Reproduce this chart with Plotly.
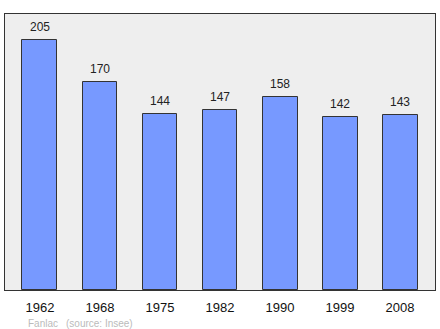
import plotly.graph_objects as go

years = ["1962", "1968", "1975", "1982", "1990", "1999", "2008"]
population = [205, 170, 144, 147, 158, 142, 143]
footer_name = "Fanlac"
footer_source = "(source: Insee)"

fig = go.Figure()
fig.add_trace(go.Bar(
    x=years, y=population,
    width=0.583,
    marker=dict(color="#7799ff", line=dict(color="#333333", width=1)),
    hoverinfo="skip",
))

value_annotations = [
    dict(x=i, y=v, xref="x", yref="y", text=str(v), showarrow=False,
         yanchor="bottom", yshift=4,
         font=dict(family="Liberation Sans, Arial, sans-serif", size=12, color="#222222"))
    for i, v in enumerate(population)
]

fig.update_layout(
    width=440, height=329,
    margin=dict(l=5, r=5, t=14, b=39),
    paper_bgcolor="white",
    plot_bgcolor="#eeeeee",
    showlegend=False,
    bargap=0,
    font=dict(family="Liberation Sans, Arial, sans-serif"),
    xaxis=dict(
        type="category",
        range=[-0.583, 6.583],
        showgrid=False, zeroline=False,
        showline=True, linecolor="#333333", linewidth=1, mirror=True,
        ticks="", ticklabelstandoff=5,
        tickfont=dict(size=13, color="#111111"),
        fixedrange=True,
    ),
    yaxis=dict(
        range=[0, 226],
        showgrid=False, zeroline=False,
        showline=True, linecolor="#333333", linewidth=1, mirror=True,
        showticklabels=False, ticks="",
        fixedrange=True,
    ),
    annotations=value_annotations + [
        dict(text=footer_name, xref="paper", yref="paper", x=0.048, y=-0.095,
             xanchor="left", yanchor="top", showarrow=False,
             font=dict(size=10, color="#bbbbbb")),
        dict(text=footer_source, xref="paper", yref="paper", x=0.137, y=-0.095,
             xanchor="left", yanchor="top", showarrow=False,
             font=dict(size=10, color="#bbbbbb")),
    ],
)

fig.write_html("out.html")
